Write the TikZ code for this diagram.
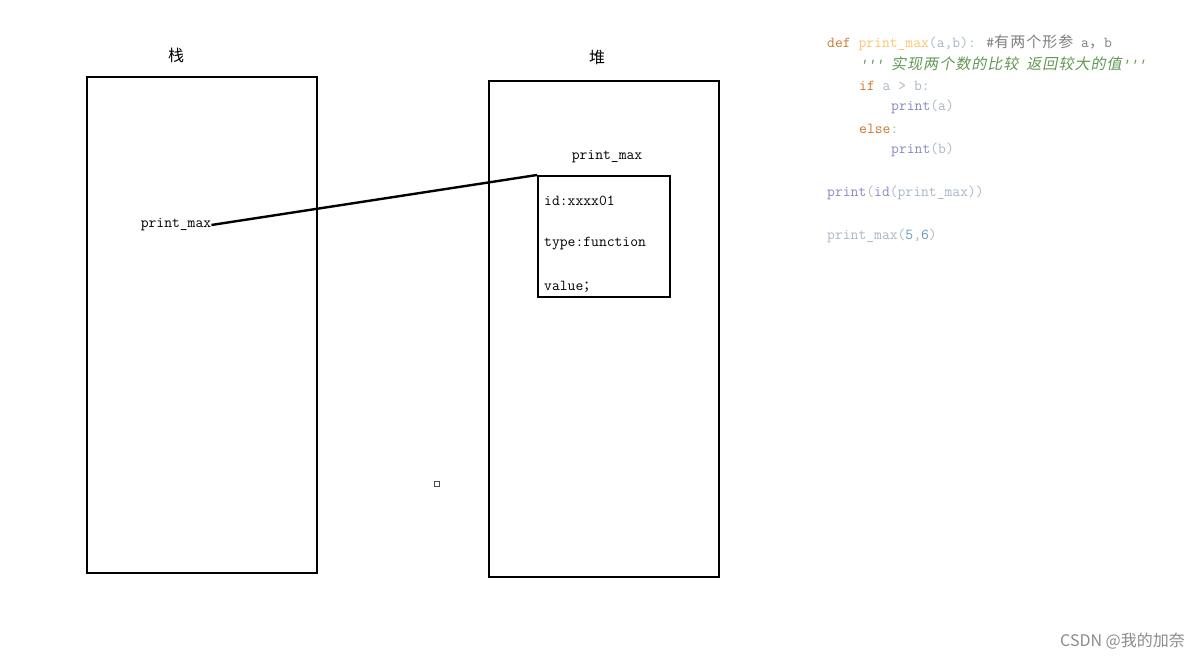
\documentclass[tikz,border=0pt]{standalone}
\usepackage{fontspec}
\setmainfont{Liberation Serif}
\newfontfamily\cjk{Noto Sans CJK SC}
\newfontfamily\cjkm[LetterSpace=7]{Noto Sans CJK SC}
\newfontfamily\cjkmit[LetterSpace=7,FakeSlant=0.2]{Noto Sans CJK SC}
\definecolor{kw}{HTML}{CC7832}
\definecolor{fn}{HTML}{FFC66D}
\definecolor{par}{HTML}{A9B7C6}
\definecolor{cm}{HTML}{808080}
\definecolor{doc}{HTML}{629755}
\definecolor{bi}{HTML}{8888C6}
\definecolor{num}{HTML}{6897BB}
\begin{document}
\begin{tikzpicture}[x=1pt,y=-1pt,
  box/.style={draw=black,line width=2pt,inner sep=0pt},
  mono/.style={inner sep=0pt,font=\ttfamily\fontsize{15.2}{18}\selectfont},
  code/.style={mono,anchor=west},
  zh/.style={inner sep=0pt,font=\cjk\fontsize{16}{18}\selectfont},
  link/.style={line width=2.4pt}]
\useasboundingbox[fill=white] (0,0) rectangle (1201,660);
% stack
\node[box,anchor=north west,minimum width=230pt,minimum height=496pt] (stack) at (86,76) {};
\node[zh] (stacklbl) at (176,55) {栈};
\node[mono] (fnref) at (176,225) {print\_max};
% heap
\node[box,anchor=north west,minimum width=230pt,minimum height=496pt] (heap) at (488,80) {};
\node[zh] (heaplbl) at (597,57) {堆};
\node[mono] (objlbl) at (607,157) {print\_max};
\node[box,anchor=north west,minimum width=132pt,minimum height=121pt] (obj) at (537,175) {};
\node[code] (oid) at (544,201) {id:xxxx01};
\node[code] (otype) at (544,244) {type:function};
\node[code] (oval) at (544,287) {value{\cjk\fontsize{13.3}{16}\selectfont ；}};
\draw[link] (fnref.east) -- (obj.north west);
% small square
\node[draw=black!70,line width=1pt,minimum size=5pt,inner sep=0pt] (sq) at (437,484) {};
% code
\node[code] (c1) at (827,43) {\textcolor{kw}{def} \textcolor{fn}{print\_max}\textcolor{par}{(a,b):} \textcolor{cm}{\#{\cjkm\fontsize{15}{16}\selectfont 有两个形参} a{\cjkm\fontsize{15}{16}\selectfont ，}b}};
\node[code] (c2) at (859,64) {\color{doc}\itshape '{}'{}' {\cjkmit\fontsize{15}{16}\selectfont 实现两个数的比较} {\cjkmit\fontsize{15}{16}\selectfont 返回较大的值}'{}'{}'};
\node[code] (c3) at (859,86) {\textcolor{kw}{if} \textcolor{par}{a > b:}};
\node[code] (c4) at (891,107) {\textcolor{bi}{print}\textcolor{par}{(a)}};
\node[code] (c5) at (859,129) {\textcolor{kw}{else}\textcolor{par}{:}};
\node[code] (c6) at (891,150) {\textcolor{bi}{print}\textcolor{par}{(b)}};
\node[code] (c7) at (827,193) {\textcolor{bi}{print}\textcolor{par}{(}\textcolor{bi}{id}\textcolor{par}{(print\_max))}};
\node[code] (c8) at (827,236) {\textcolor{par}{print\_max(}\textcolor{num}{5}\textcolor{par}{,}\textcolor{num}{6}\textcolor{par}{)}};
% watermark
\node[inner sep=0pt,anchor=east,text=black!45,font=\cjk\fontsize{16}{18}\selectfont] (wm) at (1185,641) {CSDN @我的加奈};
\end{tikzpicture}
\end{document}
